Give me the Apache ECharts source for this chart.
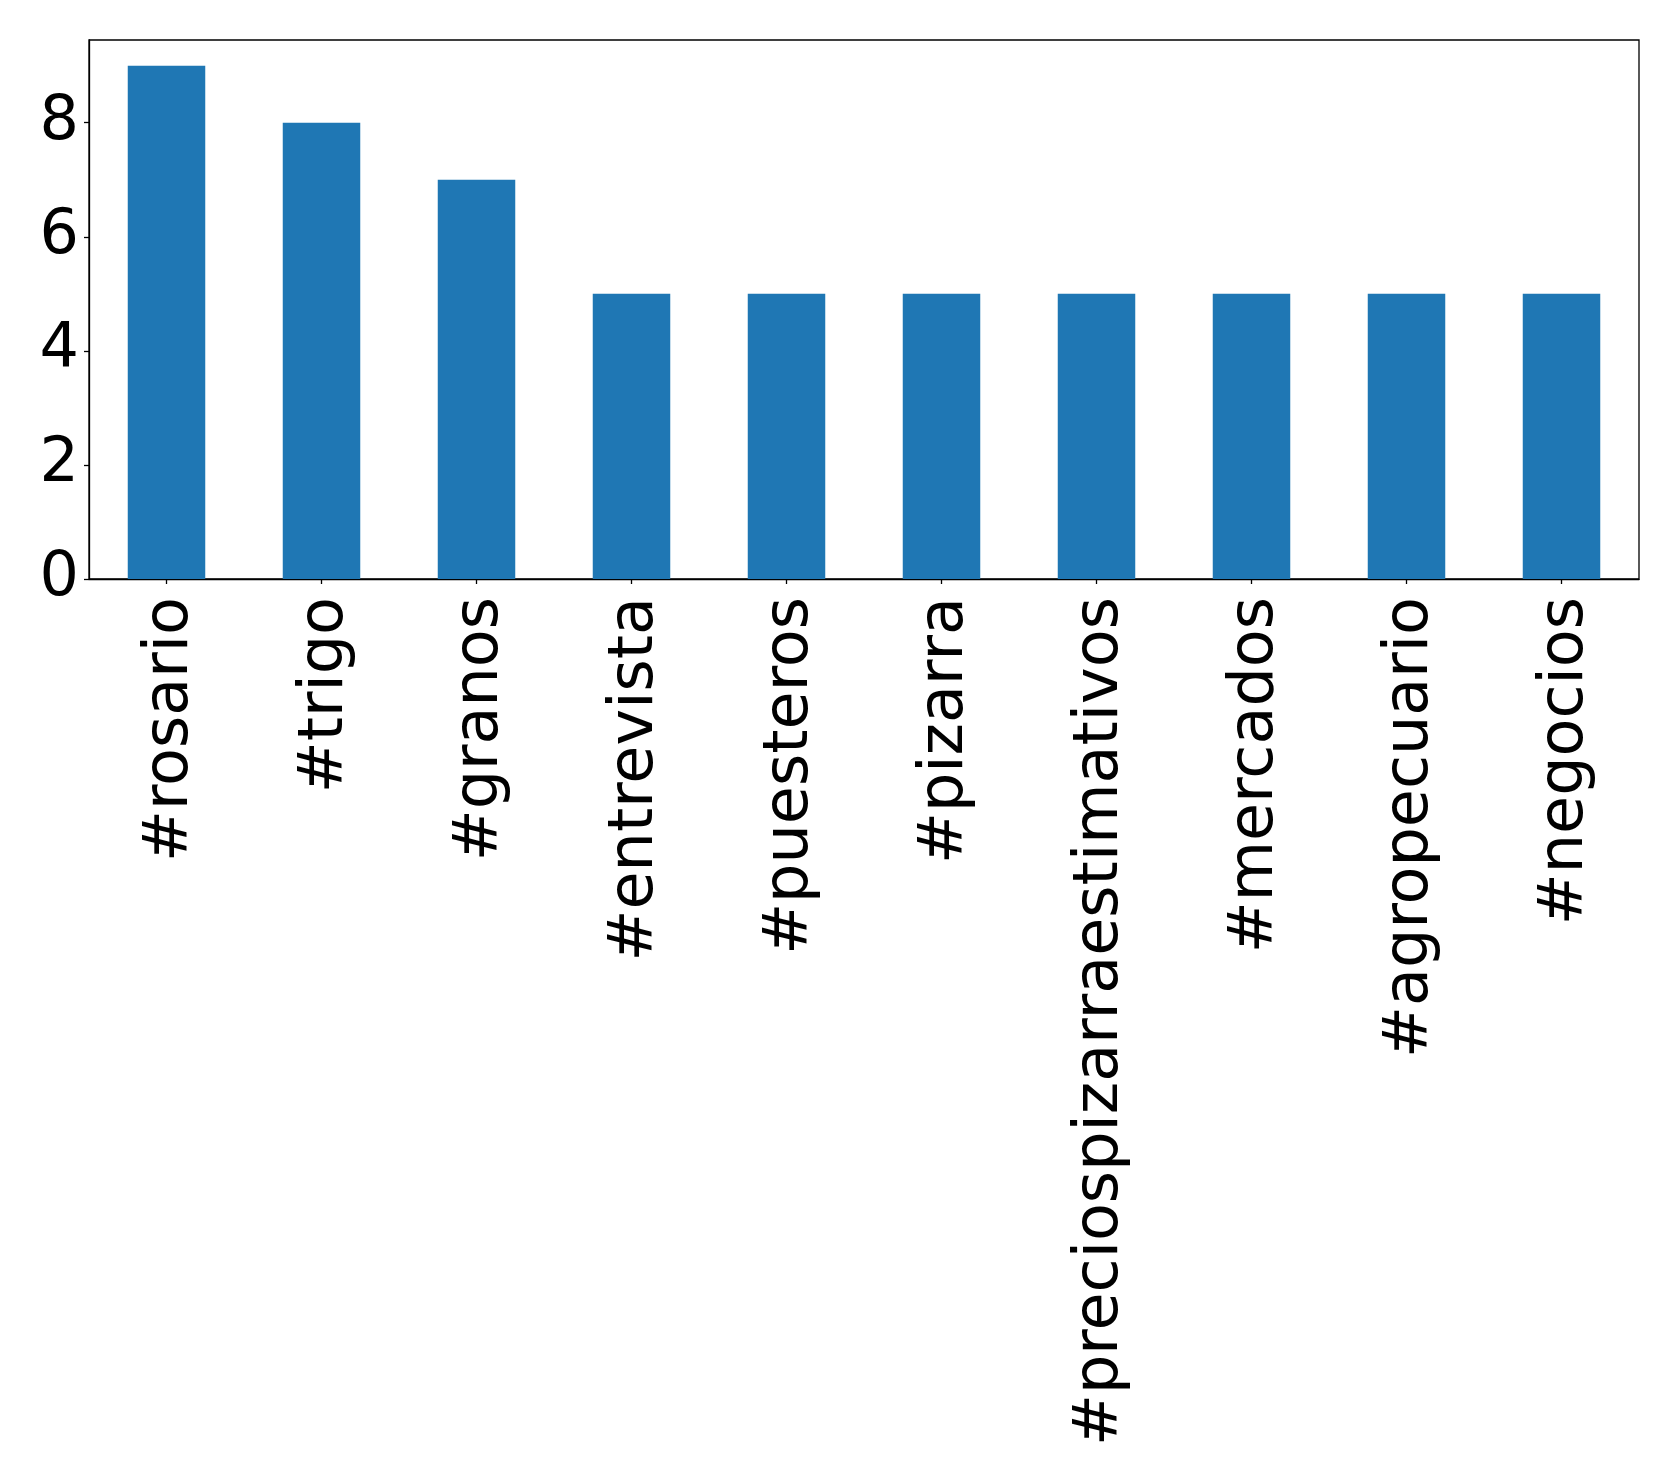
<!DOCTYPE html>
<html>
<head>
<meta charset="utf-8">
<script src="https://cdn.jsdelivr.net/npm/echarts@6/dist/echarts.min.js"></script>
<style>
html,body{margin:0;padding:0;background:#fff;}
#chart{width:1679px;height:1484px;}
</style>
</head>
<body>
<div id="chart"></div>
<script>
const categories = ['#rosario','#trigo','#granos','#entrevista','#puesteros','#pizarra','#preciospizarraestimativos','#mercados','#agropecuario','#negocios'];
const counts = [9, 8, 7, 5, 5, 5, 5, 5, 5, 5];
const yTicks = [0, 2, 4, 6, 8];

const chart = echarts.init(document.getElementById('chart'), null, {renderer: 'canvas'});
const font = 'DejaVu Sans';
chart.setOption({
  animation: false,
  backgroundColor: '#ffffff',
  grid: {
    left: 89, top: 40, right: 40, bottom: 905,
    show: true, borderColor: '#000', borderWidth: 1.3, backgroundColor: 'transparent'
  },
  xAxis: {
    type: 'category',
    data: categories,
    boundaryGap: true,
    axisLine: {show: true, lineStyle: {color: '#000', width: 1.3}},
    axisTick: {show: true, alignWithLabel: true, length: 5, lineStyle: {color: '#000', width: 1.3}},
    axisLabel: {
      rotate: 90, color: '#000', fontFamily: font, fontSize: 62, margin: 18, interval: 0,
      formatter: function (v) { return '{t|' + v + '}'; },
      rich: {t: {color: '#000', fontFamily: font, fontSize: 62, padding: [8, 0, 0, 0]}}
    },
    splitLine: {show: false}
  },
  yAxis: {
    type: 'value',
    min: 0, max: 9.45, interval: 2,
    axisLine: {show: true, lineStyle: {color: '#000', width: 1.3}},
    axisTick: {show: true, length: 5, lineStyle: {color: '#000', width: 1.3}, customValues: yTicks},
    axisLabel: {color: '#000', fontFamily: font, fontSize: 62, margin: 10, customValues: yTicks},
    splitLine: {show: false}
  },
  series: [{
    type: 'bar',
    data: counts,
    barWidth: '50%',
    itemStyle: {color: '#1f77b4'}
  }]
});
</script>
</body>
</html>
